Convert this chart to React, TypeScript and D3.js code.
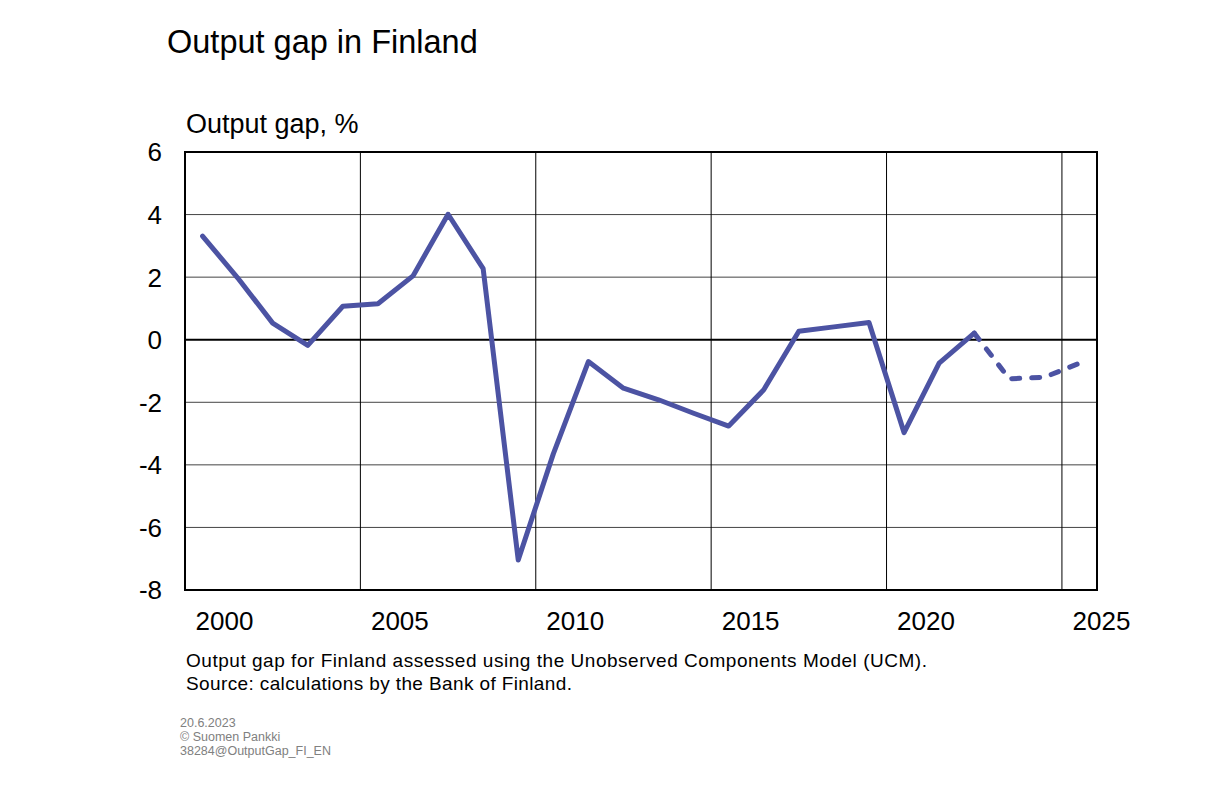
import React from 'react'
import * as d3 from 'd3'

// Output gap in Finland, % (2023 onwards is forecast, drawn dashed)
const years = [
    2000, 2001, 2002, 2003, 2004, 2005, 2006, 2007, 2008, 2009, 2010, 2011, 2012,
    2013, 2014, 2015, 2016, 2017, 2018, 2019, 2020, 2021, 2022, 2023, 2024, 2025,
]
const outputGap = [
    3.31, 1.98, 0.53, -0.18, 1.07, 1.15, 2.04, 4.01, 2.27, -7.04, -3.65, -0.7, -1.55,
    -1.92, -2.35, -2.76, -1.6, 0.27, 0.41, 0.55, -2.97, -0.75, 0.21, -1.25, -1.2, -0.75,
]
const lastActualYear = 2022
const yTicks = [6, 4, 2, 0, -2, -4, -6, -8]
const xTickYears = [2000, 2005, 2010, 2015, 2020, 2025]

const title = 'Output gap in Finland'
const yAxisLabel = 'Output gap, %'
const footnotes = [
    'Output gap for Finland assessed using the Unobserved Components Model (UCM).',
    'Source: calculations by the Bank of Finland.',
]
const smallPrint = ['20.6.2023', '© Suomen Pankki', '38284@OutputGap_FI_EN']

const WIDTH = 1232
const HEIGHT = 804
const FONT = '"Liberation Sans", Arial, sans-serif'
const LINE_COLOR = '#4c53a3'

const plot = { left: 185, right: 1097, top: 152, bottom: 590 }

type Point = { year: number, value: number }

export default function App () {
    const xScale = d3.scaleBand<number>()
        .domain(years)
        .range([plot.left, plot.right])
        .paddingInner(0)
        .paddingOuter(0)
    const yScale = d3.scaleLinear().domain([-8, 6]).range([plot.bottom, plot.top])

    const points: Point[] = years.map((year, i) => ({ year, value: outputGap[i] }))
    const actual = points.filter((p) => p.year <= lastActualYear)
    const forecast = points.filter((p) => p.year >= lastActualYear)

    const line = d3.line<Point>()
        .x((p) => (xScale(p.year) as number) + xScale.bandwidth() / 2)
        .y((p) => yScale(p.value))

    return (
        <svg
            width={WIDTH}
            height={HEIGHT}
            style={{ position: 'absolute', left: 0, top: 0, background: '#fff' }}
            fontFamily={FONT}
        >
            <text x={167} y={53} fontSize={32.5} fill='#000'>{title}</text>
            <text x={186} y={133} fontSize={27} fill='#000'>{yAxisLabel}</text>

            {/* horizontal grid */}
            {yTicks.filter((t) => t !== 0 && t !== 6 && t !== -8).map((t) => (
                <line
                    key={'h' + t}
                    x1={plot.left}
                    x2={plot.right}
                    y1={yScale(t)}
                    y2={yScale(t)}
                    stroke='#444'
                    strokeWidth={1}
                />
            ))}
            {/* vertical grid */}
            {xTickYears.filter((y) => y !== 2000).map((y) => (
                <line
                    key={'v' + y}
                    x1={xScale(y)}
                    x2={xScale(y)}
                    y1={plot.top}
                    y2={plot.bottom}
                    stroke='#000'
                    strokeWidth={1}
                />
            ))}
            <line
                x1={plot.left}
                x2={plot.right}
                y1={yScale(0)}
                y2={yScale(0)}
                stroke='#000'
                strokeWidth={2}
            />
            <rect
                x={plot.left}
                y={plot.top}
                width={plot.right - plot.left}
                height={plot.bottom - plot.top}
                fill='none'
                stroke='#000'
                strokeWidth={2}
            />

            {/* y tick labels */}
            {yTicks.map((t) => (
                <text
                    key={'yt' + t}
                    x={162}
                    y={yScale(t)}
                    dy='0.36em'
                    fontSize={26}
                    textAnchor='end'
                >
                    {t}
                </text>
            ))}
            {/* x tick labels */}
            {xTickYears.map((y) => (
                <text
                    key={'xt' + y}
                    x={(xScale(y) as number) + 39.5}
                    y={630}
                    fontSize={26}
                    textAnchor='middle'
                >
                    {y}
                </text>
            ))}

            <path
                d={line(actual) || ''}
                fill='none'
                stroke={LINE_COLOR}
                strokeWidth={5}
                strokeLinejoin='round'
                strokeLinecap='round'
            />
            <path
                d={line(forecast) || ''}
                fill='none'
                stroke={LINE_COLOR}
                strokeWidth={5}
                strokeLinejoin='round'
                strokeLinecap='round'
                strokeDasharray='8,12'
            />

            {/* footnotes */}
            <text x={186} y={667} fontSize={19} textLength={741} lengthAdjust='spacing'>{footnotes[0]}</text>
            <text x={186} y={690} fontSize={19} textLength={386} lengthAdjust='spacing'>{footnotes[1]}</text>

            {smallPrint.map((s, i) => (
                <text key={s} x={180} y={727 + i * 14} fontSize={12.5} fill='#808080'>{s}</text>
            ))}
        </svg>
    )
}
